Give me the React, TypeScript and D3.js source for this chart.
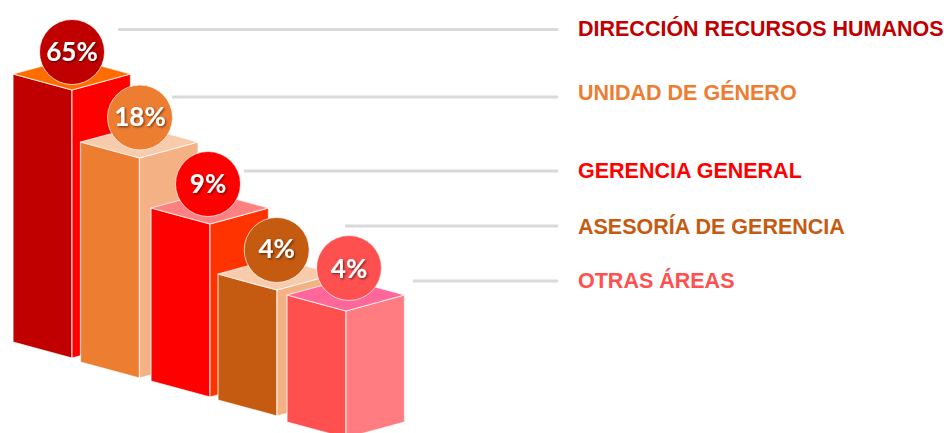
import React from "react";
import * as d3 from "d3";

const categories = ["DIRECCIÓN RECURSOS HUMANOS", "UNIDAD DE GÉNERO", "GERENCIA GENERAL", "ASESORÍA DE GERENCIA", "OTRAS ÁREAS"];
const values = [65, 18, 9, 4, 4];
const labelColors = ["#C00000", "#ED7D31", "#FF0000", "#C55A11", "#FF5050"];
const frontColors = ["#C00000", "#ED7D31", "#FF0000", "#C55A11", "#FF5050"];
const sideColors = ["#FF0000", "#F4B183", "#FF3300", "#F4B183", "#FF7C80"];
const topColors = ["#FF6D00", "#F8CBAD", "#FF8080", "#F8CBAD", "#FF6699"];

const W = 944, H = 433;
const frontW = 59, sideW = 58.5, depth = 16;
const x = d3.scaleOrdinal<string, number>().domain(categories).range([13, 80.5, 151, 218, 287]);
const yTop = d3.scaleOrdinal<string, number>().domain(categories).range([74, 142, 208, 274, 295]);
const yBase = d3.scaleOrdinal<string, number>().domain(categories).range([342, 362, 381, 400, 422]);
const circleX = d3.scaleOrdinal<string, number>().domain(categories).range([72, 140, 208, 276.7, 349]);
const circleY = d3.scaleOrdinal<string, number>().domain(categories).range([52, 117.5, 184, 250, 268]);
const textY = d3.scaleOrdinal<string, number>().domain(categories).range([60.5, 125.5, 193, 258, 278]);
const leaderY = d3.scaleOrdinal<string, number>().domain(categories).range([29.5, 97, 171, 226, 281]);
const leaderX = d3.scaleOrdinal<string, number>().domain(categories).range([118, 172, 244, 345, 413]);
const labelY = d3.scaleOrdinal<string, number>().domain(categories).range([36, 100, 178, 234, 288]);
const poly = d3.line<[number, number]>();

export default function App() {
  return (
    <svg width={W} height={H} viewBox={`0 0 ${W} ${H}`} style={{ position: "absolute", left: 0, top: 0, display: "block", background: "#fff" }}>
      <defs>
        <filter id="ts" x="-20%" y="-20%" width="150%" height="150%">
          <feDropShadow dx="1.2" dy="1.2" stdDeviation="0.8" floodColor="#000" floodOpacity="0.55" />
        </filter>
      </defs>
      {categories.map((c) => (
        <line key={c} x1={leaderX(c)} x2={558} y1={leaderY(c)} y2={leaderY(c)} stroke="#D9D9D9" strokeWidth={3} />
      ))}
      {categories.map((c, i) => {
        const l = x(c), m = l + frontW, r = m + sideW, t = yTop(c), b = yBase(c);
        const stroke = { stroke: "#fff", strokeOpacity: 0.7, strokeWidth: 1.25, strokeLinejoin: "round" as const };
        return (
          <g key={c}>
            <path d={poly([[l, t], [m, t + depth], [m, b + depth], [l, b]])! + "Z"} fill={frontColors[i]} {...stroke} />
            <path d={poly([[m, t + depth], [r, t], [r, b], [m, b + depth]])! + "Z"} fill={sideColors[i]} {...stroke} />
            <path d={poly([[l, t], [m, t - depth], [r, t], [m, t + depth]])! + "Z"} fill={topColors[i]} {...stroke} />
          </g>
        );
      })}
      {categories.map((c, i) => (
        <g key={c}>
          <circle cx={circleX(c)} cy={circleY(c)} r={32.5} fill={frontColors[i]} stroke="#fff" strokeOpacity={0.7} strokeWidth={1} />
          <text x={circleX(c)} y={textY(c)} textAnchor="middle" fontFamily="Lato, 'Open Sans', sans-serif" fontWeight={700} fontSize={26} fill="#fff" filter="url(#ts)">
            {values[i]}%
          </text>
        </g>
      ))}
      {categories.map((c, i) => (
        <text key={c} x={578} y={labelY(c)} fontFamily="'Liberation Sans', Arial, sans-serif" fontWeight={700} fontSize={21.5} fill={labelColors[i]}>
          {c}
        </text>
      ))}
    </svg>
  );
}
